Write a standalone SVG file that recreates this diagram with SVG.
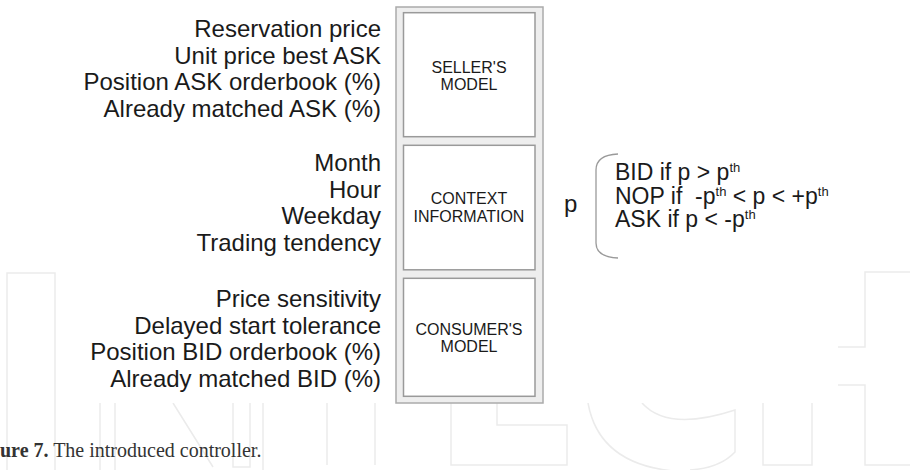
<svg xmlns="http://www.w3.org/2000/svg" width="910" height="470" viewBox="0 0 910 470">
<style>
.in{font-family:"Liberation Sans",Arial,sans-serif;font-size:24px;fill:#1a1a1a;text-anchor:end}
.lb{font-family:"Liberation Sans",Arial,sans-serif;font-size:16px;fill:#1a1a1a;text-anchor:middle}
.rt{font-family:"Liberation Sans",Arial,sans-serif;font-size:23px;fill:#1a1a1a;white-space:pre}
.sup{font-size:13px}
.wm{fill:none;stroke:#ebebeb;stroke-width:1.5}
.box{fill:#ffffff;stroke:#9a9a9a;stroke-width:1.5}
</style>
<rect width="910" height="470" fill="#ffffff"/>
<g id="watermark">
<path class="wm" d="M7,470 L7,273 L55,273 L55,470"/>
<path class="wm" d="M100,470 L100,270 L150,270 L215,400 L215,270 L263,270 L263,470 M115,403 L115,470 M173,403 L213,467 M233,403 L233,467 L250,467 L250,403"/>
<path class="wm" d="M327,403 L327,465 M375,403 L375,465"/>
<path class="wm" d="M451,403 L451,465 L567,465 L567,425 L497,425 L497,403"/>
<path class="wm" d="M588,403 Q600,470 690,472 M642,403 Q668,432 735,410 L735,452 Q720,468 690,470"/>
<path class="wm" d="M763,403 L763,465 L812,465 L812,403 M838,347 L865,347 L865,272 L910,272 M838,385 L865,385 L865,465 L910,465"/>
</g>
<rect x="57" y="0" width="781" height="403" fill="#ffffff"/>
<g id="inputs">
<text class="in" x="381" y="37">Reservation price</text>
<text class="in" x="381" y="63.5">Unit price best ASK</text>
<text class="in" x="381" y="90">Position ASK orderbook (%)</text>
<text class="in" x="381" y="116.5">Already matched ASK (%)</text>
<text class="in" x="381" y="171">Month</text>
<text class="in" x="381" y="197.5">Hour</text>
<text class="in" x="381" y="224">Weekday</text>
<text class="in" x="381" y="250.5">Trading tendency</text>
<text class="in" x="381" y="307">Price sensitivity</text>
<text class="in" x="381" y="333.5">Delayed start tolerance</text>
<text class="in" x="381" y="360">Position BID orderbook (%)</text>
<text class="in" x="381" y="386.5">Already matched BID (%)</text>
</g>
<g id="controller">
<rect x="396" y="7" width="147" height="396" fill="#eeeeee" stroke="#ababab" stroke-width="1.5"/>
</g>
<g id="seller">
<rect class="box" x="403.5" y="12.7" width="131.5" height="124"/>
<text class="lb" x="469" y="73">SELLER'S</text>
<text class="lb" x="469" y="90">MODEL</text>
</g>
<g id="context">
<rect class="box" x="403.5" y="145.3" width="131.5" height="124.5"/>
<text class="lb" x="469" y="204">CONTEXT</text>
<text class="lb" x="469" y="221.5">INFORMATION</text>
</g>
<g id="consumer">
<rect class="box" x="403.5" y="278.3" width="131.5" height="118"/>
<text class="lb" x="469" y="335">CONSUMER'S</text>
<text class="lb" x="469" y="351.5">MODEL</text>
</g>
<g id="output">
<text class="rt" x="564" y="212" style="font-size:24px">p</text>
<path d="M618,154 Q596,155 596,170 L596,243 Q596,257 618,258" fill="none" stroke="#9a9a9a" stroke-width="1.3"/>
<text class="rt" x="615" y="180">BID if p &gt; p<tspan class="sup" dy="-8">th</tspan></text>
<text class="rt" x="615" y="203.5">NOP if  -p<tspan class="sup" dy="-8">th</tspan><tspan dy="8"> &lt; p &lt; +p</tspan><tspan class="sup" dy="-8">th</tspan></text>
<text class="rt" x="615" y="227">ASK if p &lt; -p<tspan class="sup" dy="-8">th</tspan></text>
</g>
<text x="0" y="457" style="font-family:'Liberation Serif','Times New Roman',serif;font-size:20px;fill:#333333"><tspan font-weight="bold">ure 7.</tspan> The introduced controller.</text>
</svg>
